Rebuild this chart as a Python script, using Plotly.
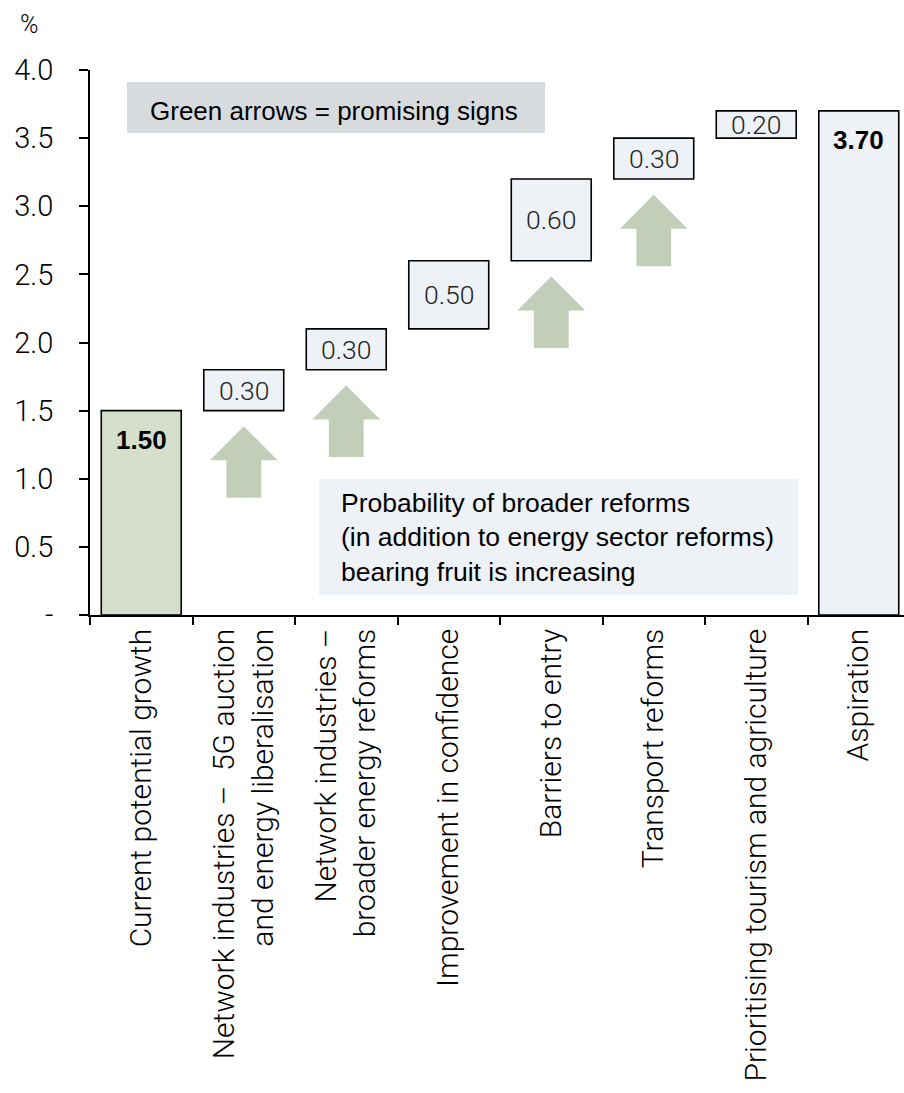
import plotly.graph_objects as go

# Contributions to potential growth (percentage points)
categories = [
    "Current potential growth",
    "Network industries –  5G auction<br>and energy liberalisation",
    "Network industries –<br>broader energy reforms",
    "Improvement in confidence",
    "Barriers to entry",
    "Transport reforms",
    "Prioritising tourism and agriculture",
    "Aspiration",
]
values = [1.50, 0.30, 0.30, 0.50, 0.60, 0.30, 0.20, 3.70]
is_total = [True, False, False, False, False, False, False, True]
promising = [False, True, True, False, True, True, False, False]

y_tickvals = [0, 0.5, 1.0, 1.5, 2.0, 2.5, 3.0, 3.5, 4.0]
y_ticktext = ["-", "0.5", "1.0", "1.5", "2.0", "2.5", "3.0", "3.5", "4.0"]

note_top = "Green arrows = promising signs"
note_bottom = ("Probability of broader reforms<br>(in addition to energy sector reforms)"
               "<br>bearing fruit is increasing")

# styling
LIGHT = "Roboto, 'Liberation Sans', Arial, sans-serif"
PLAIN = "'Liberation Sans', Arial, sans-serif"
GREEN_FILL = "#d6dfcc"
BOX_FILL = "#eef2f7"
ARROW_FILL = "#c2ceb8"
GREY_FILL = "#d8dbde"

# waterfall bases
bases, running = [], 0.0
for v, tot in zip(values, is_total):
    if tot:
        bases.append(0.0)
        running = v
    else:
        bases.append(running)
        running += v

fills = [GREEN_FILL if i == 0 else BOX_FILL for i in range(len(values))]

fig = go.Figure()
fig.add_trace(go.Bar(
    x=categories, y=values, base=bases, width=0.78,
    marker=dict(color=fills, line=dict(color="black", width=1.6)),
    hoverinfo="skip", showlegend=False,
))

# upward arrows beneath the promising steps
gap, length, head_h = 0.115, 0.525, 0.25
head_w, shaft_w = 0.33, 0.17
for i, (ok, b) in enumerate(zip(promising, bases)):
    if not ok:
        continue
    tip = b - gap
    neck = tip - head_h
    foot = tip - length
    xs = [i, i + head_w, i + shaft_w, i + shaft_w, i - shaft_w, i - shaft_w, i - head_w, i]
    ys = [tip, neck, neck, foot, foot, neck, neck, tip]
    fig.add_trace(go.Scatter(
        x=xs, y=ys, xaxis="x2", yaxis="y", mode="lines", fill="toself",
        fillcolor=ARROW_FILL, line=dict(width=0, color=ARROW_FILL),
        hoverinfo="skip", showlegend=False,
    ))

annotations = []
for i, (v, b, tot) in enumerate(zip(values, bases, is_total)):
    if tot:
        annotations.append(dict(
            x=i, y=b + v, xref="x2", yref="y", text=f"<b>{v:.2f}</b>",
            showarrow=False, yshift=-29, font=dict(family=PLAIN, size=26, color="black"),
        ))
    else:
        annotations.append(dict(
            x=i, y=b + v / 2, xref="x2", yref="y", text=f"{v:.2f}",
            showarrow=False, font=dict(family=LIGHT, size=26.5, color="#222222", weight=300),
        ))

annotations.append(dict(
    x=0.066, y=3.70, xref="x2", yref="y", text=note_top, showarrow=False,
    xanchor="left", font=dict(family=PLAIN, size=26, color="black"),
))
annotations.append(dict(
    x=1.93, y=0.57, xref="x2", yref="y", text=note_bottom, showarrow=False,
    xanchor="left", align="left", font=dict(family=PLAIN, size=26.5, color="black"),
))
annotations.append(dict(
    x=-0.088, y=1.113, xref="paper", yref="paper", text="%", showarrow=False,
    font=dict(family=LIGHT, size=25, color="black", weight=300),
))

shapes = [
    dict(type="rect", xref="x2", yref="y", x0=-0.139, x1=3.939, y0=3.538, y1=3.912,
         fillcolor=GREY_FILL, line=dict(width=0), layer="below"),
    dict(type="rect", xref="x2", yref="y", x0=1.734, x1=6.407, y0=0.147, y1=0.998,
         fillcolor=BOX_FILL, line=dict(width=0), layer="below"),
]

x_range = [-0.5, -0.5 + 814 / 102.5]

fig.update_layout(
    width=904, height=1093,
    margin=dict(l=90, r=0, t=70, b=478, autoexpand=False),
    paper_bgcolor="white", plot_bgcolor="white",
    barmode="overlay",
    annotations=annotations, shapes=shapes,
    xaxis=dict(
        type="category", range=x_range, showline=True, linecolor="black", linewidth=1.6,
        ticks="outside", tickson="boundaries", ticklen=8, tickwidth=1.6, tickcolor="black",
        tickangle=-90, showgrid=False, automargin=False,
        tickfont=dict(family=LIGHT, size=30, color="black", weight=300),
    ),
    xaxis2=dict(overlaying="x", range=x_range, visible=False, showgrid=False,
                zeroline=False),
    yaxis=dict(
        range=[0, 4.0], tickvals=y_tickvals, ticktext=y_ticktext,
        showline=True, linecolor="black", linewidth=1.6, showgrid=False, zeroline=False,
        ticks="outside", ticklen=9, tickwidth=1.6, tickcolor="black",
        ticklabelstandoff=20, automargin=False,
        tickfont=dict(family=LIGHT, size=29, color="black", weight=300),
    ),
)

fig.write_html("out.html")
